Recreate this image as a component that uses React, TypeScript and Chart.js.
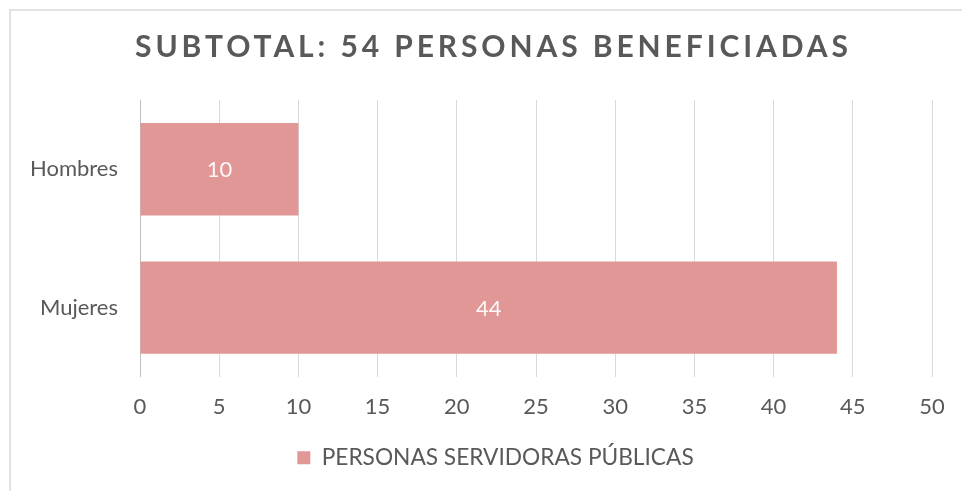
import React, { useEffect, useRef } from "react";
import { Chart, registerables } from "chart.js";

Chart.register(...registerables);

const TITLE = "SUBTOTAL: 54 PERSONAS BENEFICIADAS";
const categories = ["Hombres", "Mujeres"];
const seriesName = "PERSONAS SERVIDORAS PÚBLICAS";
const values = [10, 44];
const xMin = 0;
const xMax = 50;
const xStep = 5;

const TEXT = "#595959";
const BAR = "rgb(224,151,149)";
const FONT = "Lato, 'Open Sans', sans-serif";

const titlePlugin = {
  id: "customTitle",
  afterDraw(chart: any) {
    const ctx = chart.ctx;
    ctx.save();
    ctx.font = `bold 30px ${FONT}`;
    ctx.fillStyle = TEXT;
    ctx.textAlign = "left";
    ctx.textBaseline = "middle";
    (ctx as any).letterSpacing = "3.9px";
    const w = ctx.measureText(TITLE).width - 3.9;
    ctx.fillText(TITLE, 491.5 - w / 2, 47.5);
    ctx.restore();
  },
};

// the legend in the original is centred on the full (wider) chart frame
const legendShift = {
  id: "legendShift",
  afterLayout(chart: any) {
    if (chart.legend) {
      chart.legend.left += 29.5;
      chart.legend.right += 29.5;
    }
  },
};

const labelPlugin = {
  id: "barLabels",
  afterDatasetsDraw(chart: any) {
    const ctx = chart.ctx;
    const meta = chart.getDatasetMeta(0);
    ctx.save();
    ctx.font = `22px ${FONT}`;
    ctx.fillStyle = "rgba(255,255,255,0.92)";
    ctx.textAlign = "center";
    ctx.textBaseline = "middle";
    meta.data.forEach((bar: any, i: number) => {
      const v = chart.data.datasets[0].data[i];
      const x = (bar.x + bar.base) / 2;
      ctx.fillText(String(v), x, bar.y + 1);
    });
    ctx.restore();
  },
};

export default function App() {
  const ref = useRef<HTMLCanvasElement>(null);
  useEffect(() => {
    if (!ref.current) return;
    const chart = new Chart(ref.current, {
      type: "bar",
      data: {
        labels: categories,
        datasets: [
          {
            label: seriesName,
            data: values,
            backgroundColor: BAR,
            borderWidth: 0,
            barPercentage: 0.667,
            categoryPercentage: 1,
          },
        ],
      },
      options: {
        indexAxis: "y",
        responsive: false,
        animation: false,
        layout: { padding: { top: 100, right: 30, bottom: 12, left: 0 } },
        plugins: {
          title: { display: false },
          tooltip: { enabled: false },
          legend: {
            display: true,
            position: "bottom",
            labels: {
              boxWidth: 13,
              boxHeight: 13,
              padding: 9,
              color: TEXT,
              font: { family: FONT, size: 22.7 },
            },
          },
        },
        scales: {
          x: {
            min: xMin,
            max: xMax,
            ticks: { stepSize: xStep, color: TEXT, padding: 17, font: { family: FONT, size: 22 } },
            grid: { color: "#d9d9d9", drawTicks: false },
            border: { display: false },
          },
          y: {
            ticks: { color: TEXT, padding: 22, font: { family: FONT, size: 22 } },
            grid: { display: false, drawTicks: false },
            border: { display: true, color: "#bfbfbf", width: 1 },
            afterFit(scale: any) {
              scale.width = 140;
            },
          },
        },
      },
      plugins: [titlePlugin, legendShift, labelPlugin],
    });
    return () => chart.destroy();
  }, []);
  return (
    <div style={{ position: "fixed", left: 0, top: 0, width: 962, height: 491, background: "#fff", overflow: "hidden" }}>
      <div
        style={{
          position: "absolute",
          left: 9,
          top: 9,
          width: 1000,
          height: 600,
          borderTop: "2px solid #e2e2e2",
          borderLeft: "2px solid #e2e2e2",
        }}
      />
      <canvas ref={ref} width={962} height={491} style={{ position: "absolute", left: 0, top: 0, width: 962, height: 491 }} />
    </div>
  );
}
